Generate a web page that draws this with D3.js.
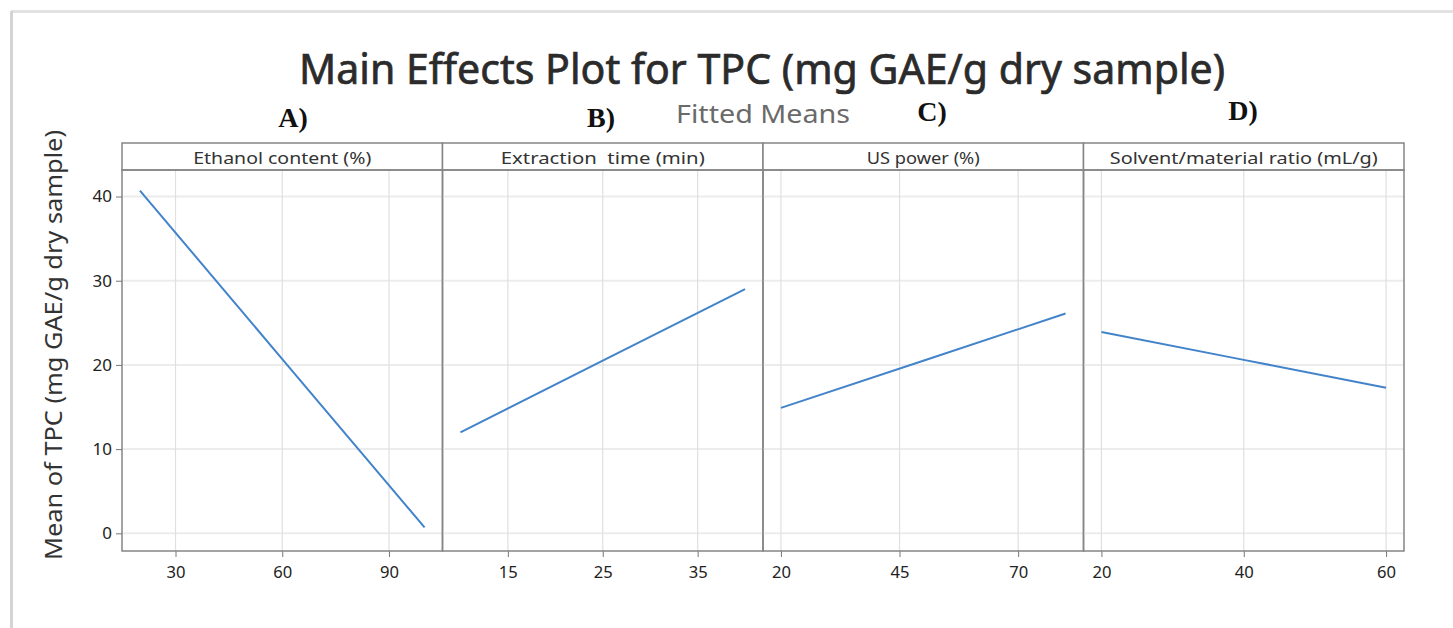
<!DOCTYPE html>
<html>
<head>
<meta charset="utf-8">
<script src="https://cdn.jsdelivr.net/npm/d3@7"></script>
<style>
  html, body { margin: 0; padding: 0; background: #ffffff; }
  svg { display: block; }
  text { white-space: pre; }
</style>
</head>
<body>
<svg id="chart" width="1453" height="628"></svg>
<script>
// ---- data ----
const factors = ["Ethanol content (%)", "Extraction  time (min)", "US power (%)", "Solvent/material ratio (mL/g)"];
const panelLetters = ["A)", "B)", "C)", "D)"];
const ethanolLevels = [20, 60, 100];
const ethanolMeans = [40.7, 20.7, 0.7];
const timeLevels = [10, 25, 40];
const timeMeans = [12.0, 20.5, 29.0];
const powerLevels = [20, 50, 80];
const powerMeans = [14.9, 20.5, 26.1];
const ratioLevels = [20, 40, 60];
const ratioMeans = [23.9, 20.6, 17.3];
const ethanolTicks = [30, 60, 90];
const timeTicks = [15, 25, 35];
const powerTicks = [20, 45, 70];
const ratioTicks = [20, 40, 60];
const yTicks = [0, 10, 20, 30, 40];

const panels = [
  { name: factors[0], letter: panelLetters[0], levels: ethanolLevels, means: ethanolMeans, ticks: ethanolTicks },
  { name: factors[1], letter: panelLetters[1], levels: timeLevels, means: timeMeans, ticks: timeTicks },
  { name: factors[2], letter: panelLetters[2], levels: powerLevels, means: powerMeans, ticks: powerTicks },
  { name: factors[3], letter: panelLetters[3], levels: ratioLevels, means: ratioMeans, ticks: ratioTicks }
];

// ---- layout ----
const svg = d3.select("#chart");
const left = 122, right = 1404, stripTop = 143, stripBot = 170, plotBot = 551;
const pw = (right - left) / panels.length;
const letterX = [293, 601, 932, 1243];
const letterY = [127, 127, 121, 120];
const stripTextWidth = [178, 204, 113, 268];

const y = d3.scaleLinear().domain([-2.1, 43.15]).range([plotBot, stripBot]);

const sans = "'Noto Sans', 'Open Sans', sans-serif";
const gridColH = "#ececec";
const gridColV = "#e0e0e0";
const frameCol = "#858585";
const lineCol = "#4283ca";

// outer shadow frame
svg.append("line").attr("x1", 11).attr("x2", 1453).attr("y1", 11.5).attr("y2", 11.5)
  .attr("stroke", "#e2e2e2").attr("stroke-width", 3);
svg.append("line").attr("x1", 11.5).attr("x2", 11.5).attr("y1", 11).attr("y2", 628)
  .attr("stroke", "#d4d4d4").attr("stroke-width", 3);

// title
svg.append("text").attr("x", 762).attr("y", 84).attr("text-anchor", "middle")
  .attr("font-family", sans).attr("font-size", 42).attr("fill", "#2b2b2b")
  .attr("stroke", "#2b2b2b").attr("stroke-width", 0.7)
  .attr("textLength", 926).attr("lengthAdjust", "spacingAndGlyphs")
  .text("Main Effects Plot for TPC (mg GAE/g dry sample)");
svg.append("text").attr("x", 763).attr("y", 123).attr("text-anchor", "middle")
  .attr("font-family", sans).attr("font-size", 25).attr("fill", "#6a6a6a")
  .attr("textLength", 174).attr("lengthAdjust", "spacingAndGlyphs")
  .text("Fitted Means");

// y axis label
svg.append("text")
  .attr("transform", "translate(62,345) rotate(-90)")
  .attr("text-anchor", "middle").attr("font-family", sans).attr("font-size", 23).attr("fill", "#333")
  .attr("textLength", 430).attr("lengthAdjust", "spacingAndGlyphs")
  .text("Mean of TPC (mg GAE/g dry sample)");

panels.forEach((p, i) => {
  const x0 = left + i * pw, x1 = x0 + pw;
  const lo = d3.min(p.levels), hi = d3.max(p.levels);
  const pad = (hi - lo) * 0.063;
  const x = d3.scaleLinear().domain([lo - pad, hi + pad]).range([x0, x1]);
  const g = svg.append("g");

  // horizontal gridlines
  g.selectAll("line.hg").data(yTicks).enter().append("line")
    .attr("x1", x0).attr("x2", x1)
    .attr("y1", d => y(d)).attr("y2", d => y(d))
    .attr("stroke", gridColH).attr("stroke-width", 2);
  // vertical gridlines
  g.selectAll("line.vg").data(p.ticks).enter().append("line")
    .attr("x1", d => x(d)).attr("x2", d => x(d))
    .attr("y1", stripBot).attr("y2", plotBot)
    .attr("stroke", gridColV).attr("stroke-width", 1.2);

  // x axis ticks + labels
  const xAxis = d3.axisBottom(x).tickValues(p.ticks).tickSize(6).tickPadding(9).tickSizeOuter(0);
  const ax = g.append("g").attr("transform", `translate(0,${plotBot})`).call(xAxis);
  ax.select(".domain").remove();
  ax.selectAll(".tick line").attr("stroke", "#777");
  ax.selectAll(".tick text").attr("font-family", sans).attr("font-size", 17).attr("fill", "#222")
    .attr("textLength", 19).attr("lengthAdjust", "spacingAndGlyphs");

  // line
  const pts = p.levels.map((l, k) => [l, p.means[k]]);
  g.append("path").datum(pts)
    .attr("d", d3.line().x(d => x(d[0])).y(d => y(d[1])))
    .attr("fill", "none").attr("stroke", lineCol).attr("stroke-width", 2);

  // strip
  g.append("rect").attr("x", x0).attr("y", stripTop).attr("width", pw).attr("height", stripBot - stripTop)
    .attr("fill", "#fff").attr("stroke", frameCol).attr("stroke-width", 1.5);
  g.append("text").attr("x", (x0 + x1) / 2).attr("y", stripTop + 21).attr("text-anchor", "middle")
    .attr("font-family", sans).attr("font-size", 17).attr("fill", "#333")
    .attr("textLength", stripTextWidth[i]).attr("lengthAdjust", "spacingAndGlyphs")
    .text(p.name);

  // panel frame
  g.append("rect").attr("x", x0).attr("y", stripBot).attr("width", pw).attr("height", plotBot - stripBot)
    .attr("fill", "none").attr("stroke", frameCol).attr("stroke-width", 1.5);

  // panel letter
  svg.append("text").attr("x", letterX[i]).attr("y", letterY[i]).attr("text-anchor", "middle")
    .attr("font-family", "'Liberation Serif', 'Times New Roman', serif").attr("font-weight", "bold")
    .attr("font-size", 28).attr("fill", "#111").text(p.letter);
});

// y axis
const yAxis = d3.axisLeft(y).tickValues(yTicks).tickSize(6).tickPadding(4).tickSizeOuter(0);
const ya = svg.append("g").attr("transform", `translate(${left},0)`).call(yAxis);
ya.select(".domain").remove();
ya.selectAll(".tick line").attr("stroke", "#777");
ya.selectAll(".tick text").attr("font-family", sans).attr("font-size", 17).attr("fill", "#222");
</script>
</body>
</html>
